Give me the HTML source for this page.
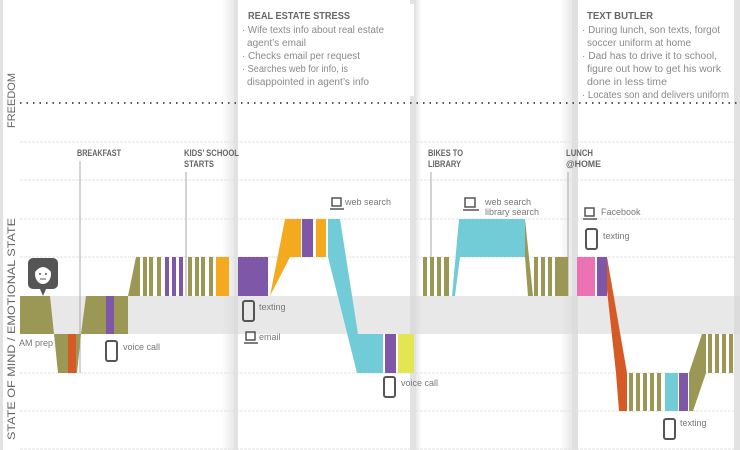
<!DOCTYPE html>
<html><head><meta charset="utf-8"><style>
html,body{margin:0;padding:0;background:#fff}
svg{display:block}
text{font-family:"Liberation Sans",sans-serif}
</style></head><body>
<svg width="740" height="450" viewBox="0 0 740 450" xmlns="http://www.w3.org/2000/svg">
<defs>
<linearGradient id="gl" x1="0" x2="1"><stop offset="0" stop-color="#fff"/><stop offset="1" stop-color="#e3e3e3"/></linearGradient>
<linearGradient id="gr" x1="0" x2="1"><stop offset="0" stop-color="#e3e3e3"/><stop offset="1" stop-color="#fff"/></linearGradient>
</defs>
<rect width="740" height="450" fill="#fff"/>
<rect x="0" y="0" width="3" height="450" fill="#e2e2e2"/>
<rect x="222" y="0" width="12" height="450" fill="url(#gl)" opacity="0.8"/>
<rect x="234" y="0" width="4" height="450" fill="#e2e2e2"/>
<rect x="410" y="0" width="6" height="450" fill="#e2e2e2"/>
<rect x="416" y="0" width="6" height="450" fill="url(#gr)" opacity="0.8"/>
<rect x="560" y="0" width="12" height="450" fill="url(#gl)" opacity="0.8"/>
<rect x="572" y="0" width="6" height="450" fill="#e0e0e0"/>
<rect x="734" y="0" width="6" height="450" fill="#e2e2e2"/>
<rect x="20" y="296" width="720" height="38" fill="#d8d8d8" opacity="0.6"/>
<g stroke="#e2e2e2" stroke-width="1" stroke-dasharray="3,1">
<line x1="20" x2="740" y1="142" y2="142"/><line x1="20" x2="740" y1="180" y2="180"/>
<line x1="20" x2="740" y1="219" y2="219"/><line x1="20" x2="740" y1="257" y2="257"/>
<line x1="20" x2="740" y1="373" y2="373"/><line x1="20" x2="740" y1="411" y2="411"/>
<line x1="20" x2="740" y1="449" y2="449"/>
</g>
<line x1="20" x2="740" y1="103" y2="103" stroke="#555" stroke-width="2" stroke-dasharray="1.5,5"/>
<rect x="238" y="4" width="176" height="92" fill="#fff"/>
<rect x="578" y="4" width="156" height="98" fill="#fff"/>
<g font-size="10" fill="#8a8a8a">
<text x="248" y="19" font-weight="bold" fill="#666" textLength="102" lengthAdjust="spacingAndGlyphs">REAL ESTATE STRESS</text>
<text x="242" y="33" textLength="142" lengthAdjust="spacingAndGlyphs">· Wife texts info about real estate</text>
<text x="247" y="46" textLength="59" lengthAdjust="spacingAndGlyphs">agent’s email</text>
<text x="242" y="59" textLength="118" lengthAdjust="spacingAndGlyphs">· Checks email per request</text>
<text x="242" y="72" textLength="106" lengthAdjust="spacingAndGlyphs">· Searches web for info, is</text>
<text x="247" y="85" textLength="122" lengthAdjust="spacingAndGlyphs">disappointed in agent’s info</text>
<text x="587" y="19" font-weight="bold" fill="#666" textLength="66" lengthAdjust="spacingAndGlyphs">TEXT BUTLER</text>
<text x="582" y="33" textLength="138" lengthAdjust="spacingAndGlyphs">· During lunch, son texts, forgot</text>
<text x="587" y="46" textLength="104" lengthAdjust="spacingAndGlyphs">soccer uniform at home</text>
<text x="582" y="59" textLength="135" lengthAdjust="spacingAndGlyphs">· Dad has to drive it to school,</text>
<text x="587" y="72" textLength="134" lengthAdjust="spacingAndGlyphs">figure out how to get his work</text>
<text x="587" y="85" textLength="80" lengthAdjust="spacingAndGlyphs">done in less time</text>
<text x="582" y="98" textLength="147" lengthAdjust="spacingAndGlyphs">· Locates son and delivers uniform</text>
</g>
<g font-size="11" fill="#666">
<text transform="translate(15,128) rotate(-90)">FREEDOM</text>
<text transform="translate(15,440) rotate(-90)" textLength="222" lengthAdjust="spacingAndGlyphs">STATE OF MIND / EMOTIONAL STATE</text>
</g>
<g font-size="9" font-weight="bold" fill="#666">
<text x="77" y="156" textLength="44" lengthAdjust="spacingAndGlyphs">BREAKFAST</text>
<text x="184" y="156" textLength="55" lengthAdjust="spacingAndGlyphs">KIDS’ SCHOOL</text><text x="184" y="167" textLength="30" lengthAdjust="spacingAndGlyphs">STARTS</text>
<text x="428" y="156" textLength="35" lengthAdjust="spacingAndGlyphs">BIKES TO</text><text x="428" y="167" textLength="33" lengthAdjust="spacingAndGlyphs">LIBRARY</text>
<text x="566" y="156" textLength="27" lengthAdjust="spacingAndGlyphs">LUNCH</text><text x="566" y="167" textLength="35" lengthAdjust="spacingAndGlyphs">@HOME</text>
</g>
<g stroke="#aaa" stroke-width="1">
<line x1="80" x2="80" y1="161" y2="373"/>
<line x1="186" x2="186" y1="172" y2="296"/>
<line x1="431" x2="431" y1="172" y2="296"/>
<line x1="568" x2="568" y1="172" y2="296"/>
</g>
<g fill="#9b9856">
<polygon points="20,296 50,296 54,334 20,334"/>
<polygon points="54,334 81,334 77,373 58,373"/>
<polygon points="86,296 128,296 128,334 81,334"/>
<polygon points="128,296 136,257 140,257 140,296"/>
<rect x="143" y="257" width="4" height="39"/><rect x="149" y="257" width="4" height="39"/><rect x="157" y="257" width="4" height="39"/>
<rect x="188" y="257" width="4" height="39"/><rect x="195" y="257" width="4" height="39"/><rect x="201" y="257" width="4" height="39"/><rect x="209" y="257" width="4" height="39"/>
<rect x="423" y="257" width="4" height="39"/><rect x="430" y="257" width="4" height="39"/><rect x="437" y="257" width="4" height="39"/><rect x="444" y="257" width="5" height="39"/>
<polygon points="525,219 533,296 528,296 525,257"/>
<rect x="534" y="257" width="4" height="39"/><rect x="541" y="257" width="4" height="39"/><rect x="548" y="257" width="4" height="39"/><rect x="555" y="257" width="13" height="39"/>
<rect x="629" y="373" width="4" height="38"/><rect x="636" y="373" width="4" height="38"/><rect x="643" y="373" width="4" height="38"/><rect x="650" y="373" width="4" height="38"/><rect x="657" y="373" width="4" height="38"/>
<polygon points="689,373 702,334 706,334 706,373 693,411 689,411"/>
<rect x="708" y="334" width="4" height="39"/><rect x="715" y="334" width="4" height="39"/><rect x="722" y="334" width="4" height="39"/><rect x="729" y="334" width="4" height="39"/>
</g>
<g fill="#d65a25">
<rect x="68" y="334" width="8" height="39"/>
<polygon points="607,257 627,373 627,411 619,411 616,373 607,290"/>
</g>
<g fill="#7e57a8">
<rect x="106" y="296" width="8" height="38"/>
<rect x="165" y="257" width="4" height="39"/><rect x="172" y="257" width="4" height="39"/><rect x="179" y="257" width="4" height="39"/>
<rect x="238" y="257" width="30" height="39"/>
<rect x="302" y="219" width="11" height="38"/>
<rect x="385" y="334" width="11" height="39"/>
<rect x="597" y="257" width="10" height="39"/>
<rect x="679" y="373" width="9" height="38"/>
</g>
<g fill="#f5a91f">
<rect x="216" y="257" width="13" height="39"/>
<polygon points="270,296 285,219 301,219 301,257 290,257"/>
<rect x="316" y="219" width="10" height="38"/>
</g>
<g fill="#72ccd7">
<polygon points="328,219 340,219 358,334 383,334 383,373 357,373 328,257"/>
<polygon points="452,296 459,219 525,219 525,257 460,257 455,296"/>
<rect x="665" y="373" width="13" height="38"/>
</g>
<rect x="398" y="334" width="16" height="39" fill="#e3e553"/>
<rect x="577" y="257" width="18" height="39" fill="#eb73b3"/>
<rect x="28" y="258" width="30" height="31" rx="5" fill="#555"/>
<polygon points="40,289 46,289 43,296" fill="#555"/>
<ellipse cx="43" cy="274" rx="8" ry="10" fill="#fff"/>
<path d="M35,272 q0,-10 8,-10 q8,0 8,10 q-4,-5 -8,-5 q-4,0 -8,5z" fill="#555"/>
<circle cx="40" cy="274" r="1" fill="#555"/><circle cx="46" cy="274" r="1" fill="#555"/>
<path d="M40,279 h6" stroke="#555" stroke-width="1"/>
<g fill="none" stroke="#555" stroke-width="2">
<rect x="106" y="341" width="11" height="20" rx="2"/>
<rect x="243" y="301" width="11" height="20" rx="2"/>
<rect x="384" y="377" width="11" height="20" rx="2"/>
<rect x="586" y="229" width="11" height="20" rx="2"/>
<rect x="664" y="419" width="11" height="20" rx="2"/>
</g>
<g fill="none" stroke="#555" stroke-width="1.5">
<path d="M246,332 h9 v8 h-9z M244,343 h14"/>
<path d="M332,198 h9 v8 h-9z M330,209 h14"/>
<path d="M465,198 h10 v9 h-10z M463,210 h16"/>
<path d="M585,208 h9 v8 h-9z M583,219 h14"/>
</g>
<g font-size="9" fill="#777">
<text x="19" y="346">AM prep</text>
<text x="123" y="350">voice call</text>
<text x="259" y="310">texting</text>
<text x="259" y="340">email</text>
<text x="345" y="205">web search</text>
<text x="401" y="386">voice call</text>
<text x="485" y="205">web search</text>
<text x="485" y="215">library search</text>
<text x="601" y="215">Facebook</text>
<text x="603" y="239">texting</text>
<text x="680" y="426">texting</text>
</g>
</svg>
</body></html>
